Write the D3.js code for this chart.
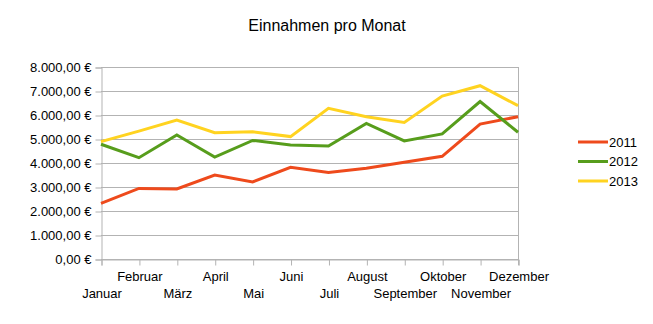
<!DOCTYPE html>
<html><head><meta charset="utf-8">
<script src="https://cdn.jsdelivr.net/npm/d3@7"></script>
<style>body{margin:0;background:#fff}svg{display:block}text{font-family:"Liberation Sans",Arial,sans-serif;fill:#000}</style>
</head><body><svg id="c" width="653" height="324"></svg>
<script>
const months = ["Januar","Februar","März","April","Mai","Juni","Juli","August","September","Oktober","November","Dezember"];
const years = ["2011","2012","2013"];
const v2011 = [2320,2940,2920,3500,3210,3820,3600,3780,4030,4280,5620,5930];
const v2012 = [4780,4220,5170,4250,4940,4750,4710,5650,4920,5210,6560,5280];
const v2013 = [4890,5330,5790,5260,5300,5100,6280,5930,5690,6790,7220,6390];
const yTicks = [0,1000,2000,3000,4000,5000,6000,7000,8000];
const colors = ["#ee4a1c","#579d1c","#ffd320"];
const series = [v2011, v2012, v2013];

const svg = d3.select("#c");
const x = d3.scalePoint().domain(months).range([101, 518]);
const y = d3.scaleLinear().domain([0, 8000]).range([259, 67]);
const fmt = v => d3.format(",.2f")(v).replace(/,/g,"#").replace(/\./g,",").replace(/#/g,".") + " €";

// gridlines
svg.append("g").selectAll("line").data(yTicks).join("line")
  .attr("x1", 101).attr("x2", 518).attr("y1", d => Math.round(y(d))+0.5).attr("y2", d => Math.round(y(d))+0.5)
  .attr("stroke", "#b3b3b3").attr("stroke-width", 1);
// right border
svg.append("line").attr("x1", 518.5).attr("x2", 518.5).attr("y1", y(8000)).attr("y2", y(0)+6)
  .attr("stroke", "#b3b3b3");

// y axis
const ya = svg.append("g").attr("transform", "translate(101.5,0.5)")
  .call(d3.axisLeft(y).tickValues(yTicks).tickFormat(fmt).tickSize(6).tickPadding(4));
ya.select(".domain").attr("stroke", "#b3b3b3");
ya.selectAll(".tick line").attr("stroke", "#b3b3b3");
ya.selectAll("text").attr("font-size", 13).attr("font-family", "Liberation Sans, Arial, sans-serif").attr("fill", "#000");

// x axis
const xa = svg.append("g").attr("transform", "translate(0.5,259.5)")
  .call(d3.axisBottom(x).tickSize(6).tickPadding(0));
xa.select(".domain").attr("stroke", "#b3b3b3");
xa.selectAll(".tick line").attr("stroke", "#b3b3b3");
xa.selectAll("text").attr("font-size", 13).attr("font-family", "Liberation Sans, Arial, sans-serif").attr("fill", "#000")
  .attr("dy", null)
  .attr("y", (d, i) => i % 2 === 0 ? 38.5 : 21.5);

// lines
const line = d3.line().x((d, i) => x(months[i])).y(d => y(d));
series.forEach((s, k) => {
  svg.append("path").datum(s).attr("d", line).attr("fill", "none")
    .attr("stroke", colors[k]).attr("stroke-width", 3).attr("stroke-linejoin", "miter");
});

// title
svg.append("text").attr("x", 327).attr("y", 31).attr("text-anchor", "middle")
  .attr("font-size", 16).text("Einnahmen pro Monat");

// legend
const lg = svg.append("g");
years.forEach((yr, k) => {
  const yy = 142 + k * 19.5;
  lg.append("line").attr("x1", 578).attr("x2", 608).attr("y1", yy).attr("y2", yy)
    .attr("stroke", colors[k]).attr("stroke-width", 3);
  lg.append("text").attr("x", 609).attr("y", yy + 4.7).attr("font-size", 13).text(yr);
});
</script></body></html>
